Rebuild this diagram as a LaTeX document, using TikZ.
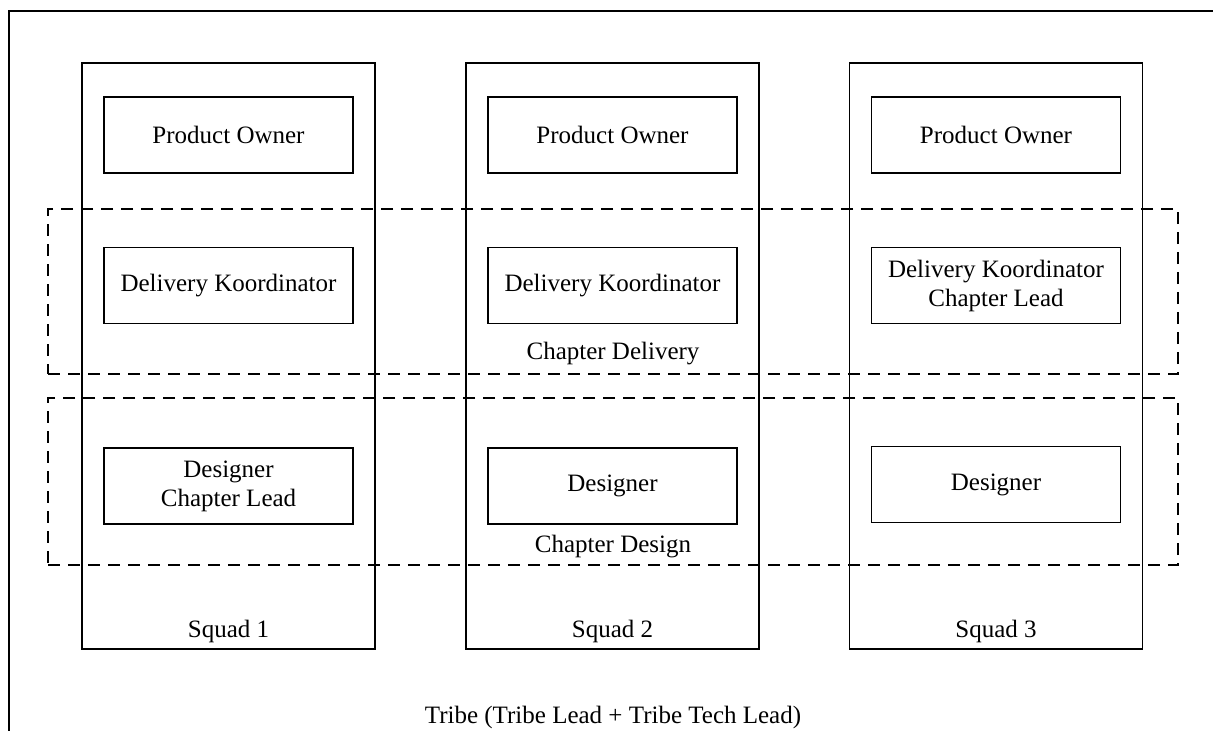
\documentclass[tikz,border=0pt]{standalone}
\usepackage{fontspec}
\setmainfont{Liberation Serif}
\begin{document}
\begin{tikzpicture}[x=1pt,y=-1pt,line width=1.4pt,font=\fontsize{25}{29}\selectfont,
  role/.style={draw,minimum width=249pt,minimum height=76pt,align=center,inner sep=0pt},
  squad/.style={draw,minimum width=293pt,minimum height=586pt,inner sep=0pt},
  chapter/.style={draw,dash pattern=on 12pt off 8pt,minimum width=1130pt,inner sep=0pt},
  txt/.style={inner sep=0pt,align=center}]
\useasboundingbox (0,0) rectangle (1213,731);
% tribe frame
\coordinate (tbl) at (9,731);
\coordinate (ttl) at (9,11);
\coordinate (ttr) at (1213,11);
\draw (tbl) -- (ttl) -- (ttr);
% squads
\node[squad] (s1) at (228.5,356) {};
\node[squad] (s2) at (612.5,356) {};
\node[squad] (s3) at (996,356) {};
% roles
\node[role] (po1) at (228.5,135) {Product Owner};
\node[role] (po2) at (612.5,135) {Product Owner};
\node[role] (po3) at (996,135) {Product Owner};
\node[role] (dk1) at (228.5,285.5) {Delivery Koordinator};
\node[role] (dk2) at (612.5,285.5) {Delivery Koordinator};
\node[role] (dk3) at (996,285.5) {Delivery Koordinator\\Chapter Lead};
\node[role] (de1) at (228.5,486) {Designer\\Chapter Lead};
\node[role] (de2) at (612.5,486) {Designer};
\node[role] (de3) at (996,484.5) {Designer};
% chapters
\node[chapter,minimum height=165pt] (chd) at (613,291.5) {};
\node[chapter,minimum height=167pt] (chs) at (613,481.5) {};
% labels
\node[txt] (lchd) at (613,354) {Chapter Delivery};
\node[txt] (lchs) at (613,547) {Chapter Design};
\node[txt] (ls1) at (228.5,631) {Squad 1};
\node[txt] (ls2) at (612.5,631) {Squad 2};
\node[txt] (ls3) at (996,631) {Squad 3};
\node[txt] (ltribe) at (613,717) {Tribe (Tribe Lead + Tribe Tech Lead)};
\end{tikzpicture}
\end{document}
